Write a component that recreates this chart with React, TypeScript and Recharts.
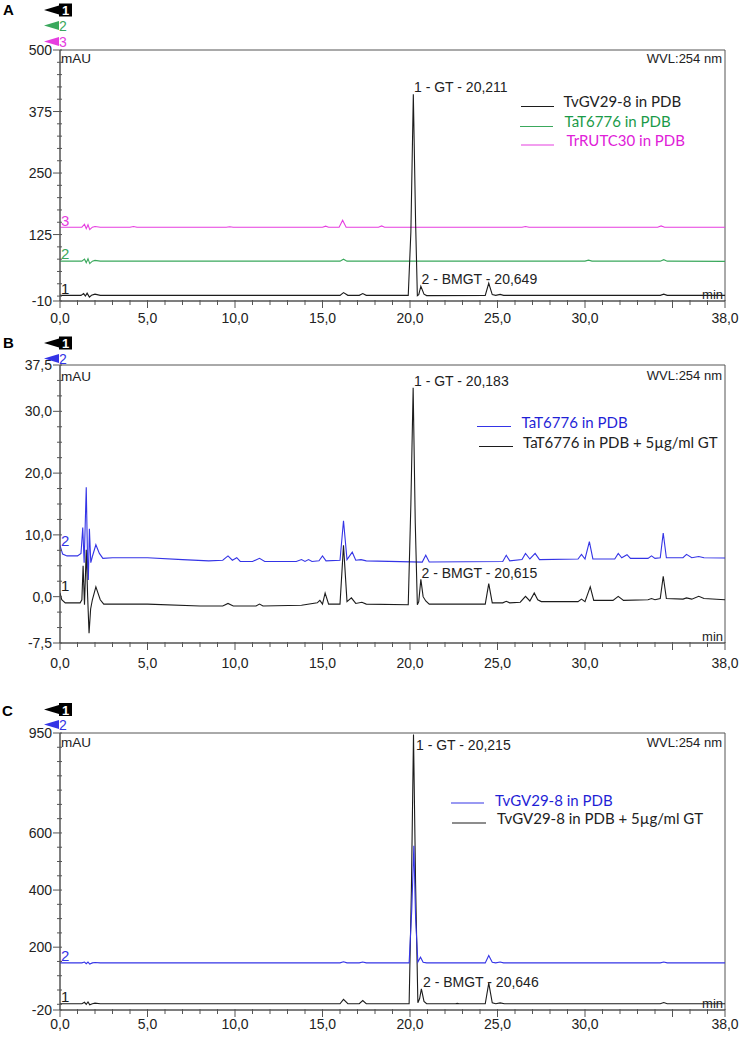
import React from 'react';
import { LineChart, Line, XAxis, YAxis, ReferenceArea } from 'recharts';

type Pt = [number, number];

// ---------- tick definitions ----------
const xTicks = [0,1,2,3,4,5,6,7,8,9,10,11,12,13,14,15,16,17,18,19,20,21,22,23,24,25,26,27,28,29,30,31,32,33,34,35,36,37,38];
const xMajor = [0,5,10,15,20,25,30,35,38];
const xLabeled = [0,5,10,15,20,25,30,38];

const aYTicks = [-10,0,25,50,75,100,125,150,175,200,225,250,275,300,325,350,375,400,425,450,475,500];
const aYMajor = [-10,125,250,375,500];
const bYTicks = [-7.5,-5,-2.5,0,2.5,5,7.5,10,12.5,15,17.5,20,22.5,25,27.5,30,32.5,35,37.5];
const bYMajor = [-7.5,0,10,20,30,37.5];
const cYTicks = [-20,0,50,100,150,200,250,300,350,400,450,500,550,600,650,700,750,800,850,900,950];
const cYMajor = [-20,200,400,600,950];

// ---------- panel A traces (time min, mAU) ----------
const aTrace1: Pt[] = [[0,1.5],[1.2,1.5],[1.35,5],[1.45,0],[1.55,6],[1.68,-2],[1.8,1.5],[2.0,4],[2.3,1.5],[16.0,1.5],[16.2,7],[16.45,1.5],[17.1,1.5],[17.3,5],[17.5,1.5],[19.9,1.5],[20.05,130],[20.19,410],[20.32,150],[20.42,1],[20.5,3],[20.62,20],[20.8,4],[20.95,1],[24.3,1.5],[24.5,26],[24.7,3],[24.9,1.5],[25.15,3.5],[25.35,1.5],[34.3,1.5],[34.5,4],[34.7,1.5],[38,1.5]];
const aTrace2: Pt[] = [[0,71],[1.25,71],[1.4,75],[1.5,68],[1.6,76],[1.7,66],[1.85,71],[2.0,72.5],[2.3,71],[16.0,71],[16.2,75],[16.4,71],[30.0,71],[30.2,73],[30.4,71],[34.3,71],[34.5,74],[34.7,71],[38,70.5]];
const aTrace3: Pt[] = [[0,140],[1.25,140],[1.4,146],[1.5,137],[1.6,145],[1.7,135],[1.85,140],[2.0,141.5],[2.3,140],[4.0,140],[4.2,141.5],[4.4,140],[9.5,140],[9.7,141],[9.9,140],[15.0,140],[15.18,142],[15.35,140],[15.95,140],[16.15,154],[16.35,140],[18.2,140],[18.38,142.5],[18.55,140],[26.4,140],[26.6,141.5],[26.8,140],[34.15,140],[34.35,142.5],[34.55,140],[38,140]];

// ---------- panel B traces ----------
const bTrace1: Pt[] = [[0,0.6],[0.1,-0.5],[0.3,-1.0],[1.15,-1.0],[1.25,-0.5],[1.32,5.0],[1.4,-1.3],[1.5,7.6],[1.58,0],[1.66,-5.9],[1.75,-2],[1.85,-0.5],[2.05,1.6],[2.3,-0.5],[2.5,-1.2],[5,-1.2],[8,-1.5],[9.3,-1.5],[9.6,-1.1],[9.9,-1.5],[11.2,-1.5],[11.4,-1.2],[11.6,-1.5],[13.8,-1.4],[14.7,-1.0],[14.85,-0.6],[15.0,-1.2],[15.15,0.6],[15.35,-1.2],[16.0,-1.2],[16.2,8.3],[16.4,-0.8],[16.65,-0.2],[16.9,-1.1],[17.25,-0.9],[17.5,-1.2],[19.9,-1.3],[20.05,15],[20.18,33.8],[20.3,12],[20.42,-1.3],[20.5,-0.8],[20.62,2.8],[20.75,0],[20.9,-0.7],[21.1,-1.2],[24.3,-1.2],[24.5,2.1],[24.7,-1.0],[25.3,-1.0],[25.5,-0.75],[25.7,-1.0],[26.3,-0.9],[26.6,0.05],[26.85,-0.7],[27.1,0.6],[27.3,-0.5],[27.5,-0.8],[29.6,-0.8],[29.8,-0.4],[30.0,-0.8],[30.3,1.6],[30.5,-0.6],[31.6,-0.6],[31.9,0.05],[32.2,-0.6],[33.6,-0.5],[33.8,-0.3],[34.0,-0.5],[34.3,-0.3],[34.47,3.3],[34.65,-0.3],[35.6,-0.4],[35.8,-0.2],[36.1,-0.4],[36.5,0.05],[36.8,-0.3],[38,-0.5]];
const bTrace2: Pt[] = [[0,8.3],[0.15,6.9],[0.4,6.6],[1.0,6.6],[1.2,7],[1.3,11.2],[1.38,5.5],[1.5,17.7],[1.58,5],[1.62,2.7],[1.68,11.0],[1.76,5.5],[1.85,6.5],[2.05,8.4],[2.25,7],[2.45,6.2],[3,6.3],[5,6.3],[7,6.0],[8.5,5.8],[9.3,5.9],[9.6,6.6],[9.85,5.9],[10.1,6.3],[10.3,5.7],[11.0,5.7],[11.4,6.2],[11.7,5.7],[13.5,5.7],[13.8,6.0],[14.0,5.7],[14.2,6.0],[14.4,5.7],[14.8,5.8],[15.0,6.6],[15.2,5.8],[16.0,5.9],[16.2,12.3],[16.4,6.0],[16.7,7.2],[16.9,5.9],[17.2,6.0],[17.5,5.8],[20.7,5.6],[20.9,6.7],[21.1,5.6],[25.3,5.7],[25.5,6.7],[25.7,5.8],[26.4,6.0],[26.6,7.0],[26.85,6.1],[27.15,7.0],[27.4,6.0],[29.6,6.1],[29.8,6.85],[30.0,6.1],[30.25,8.9],[30.45,6.1],[31.7,6.1],[31.9,7.0],[32.1,6.3],[32.4,6.8],[32.6,6.2],[33.6,6.2],[33.8,6.6],[34.0,6.2],[34.3,6.3],[34.47,10.3],[34.65,6.3],[35.6,6.3],[35.8,6.85],[36.1,6.3],[36.5,6.5],[36.8,6.3],[38,6.25]];

// ---------- panel C traces ----------
const cTrace1: Pt[] = [[0,1.8],[1.25,1.8],[1.4,7],[1.5,0],[1.6,8],[1.7,-2],[1.85,1.8],[2.0,4],[2.3,1.8],[16.0,1.8],[16.2,17],[16.45,2],[17.1,1.8],[17.3,13],[17.5,1.8],[19.95,1.8],[20.08,400],[20.2,945],[20.32,420],[20.45,5],[20.55,20],[20.65,54],[20.8,10],[20.95,2],[22.6,1.8],[22.7,3],[22.8,1.8],[24.3,1.8],[24.5,74],[24.7,5],[24.9,1.8],[25.15,5],[25.4,1.8],[34.3,1.8],[34.5,6],[34.7,1.8],[38,1.8]];
const cTrace2: Pt[] = [[0,145],[1.25,145],[1.4,148],[1.5,142],[1.6,148],[1.7,141],[1.85,145],[2.0,146.5],[2.3,145],[16.0,145],[16.2,149],[16.4,145],[17.1,145],[17.3,148],[17.5,145],[19.95,145],[20.1,330],[20.22,555],[20.32,300],[20.45,148],[20.6,165],[20.75,147],[20.95,145],[24.3,145],[24.5,171],[24.7,147],[24.9,145],[25.15,148],[25.35,145],[34.3,145],[34.5,148],[34.7,145],[38,145]];

const BLACK = '#1c1c1c';
const GREEN = '#3aa85c';
const MAGENTA = '#e63ee0';
const BLUE = '#3434e6';
const AXIS = '#555';
const TXT = '#222';
const SANS = '"Liberation Sans", Arial, sans-serif';
const LEG = 'Lato, "Open Sans", sans-serif';

const toData = (pts: Pt[]) => pts.map(([t, v]) => ({ t, v }));
const fmtComma = (v: number) => v.toFixed(1).replace('.', ',');
const fmtInt = (v: number) => String(v);

function XTick(props: any) {
  const { x, y, payload, lblOff } = props;
  const v = payload.value;
  const major = xMajor.includes(v);
  const lab = xLabeled.includes(v);
  return (
    <g>
      <line x1={x} x2={x} y1={y - 1} y2={y + (major ? 7 : 4)} stroke={AXIS} strokeWidth={1} />
      {lab && (
        <text x={x} y={y + lblOff} textAnchor="middle" dominantBaseline="central" fontFamily={SANS} fontSize={14} fill={TXT}>
          {fmtComma(v)}
        </text>
      )}
    </g>
  );
}

function YTick(props: any) {
  const { x, y, payload, majors, comma } = props;
  const v = payload.value;
  const major = majors.includes(v);
  return (
    <g>
      <line x1={x - (major ? 7 : 3)} x2={x + 2} y1={y} y2={y} stroke={AXIS} strokeWidth={1} />
      {major && (
        <text x={x - 8} y={y} textAnchor="end" dominantBaseline="central" fontFamily={SANS} fontSize={14} fill={TXT}>
          {comma ? fmtComma(v) : fmtInt(v)}
        </text>
      )}
    </g>
  );
}

type Series = { data: Pt[]; color: string; name: string };

function Panel(p: {
  top: number; height: number; marginTop: number; xAxisHeight: number;
  domain: [number, number]; yTicks: number[]; yMajor: number[]; comma: boolean;
  lblOff: number; series: Series[];
}) {
  return (
    <div style={{ position: 'absolute', left: 0, top: p.top, width: 746, height: p.height }}>
      <LineChart width={746} height={p.height} margin={{ top: p.marginTop, right: 21, bottom: 0, left: 0 }}>
        <XAxis type="number" dataKey="t" domain={[0, 38]} ticks={xTicks} interval={0} tickSize={0} tickMargin={0}
          height={p.xAxisHeight} stroke={AXIS} allowDataOverflow tick={<XTick lblOff={p.lblOff} />} />
        <YAxis type="number" dataKey="v" domain={p.domain} ticks={p.yTicks} interval={0} tickSize={0} tickMargin={0}
          width={60} stroke={AXIS} allowDataOverflow tick={<YTick majors={p.yMajor} comma={p.comma} />} />
        <ReferenceArea x1={0} x2={38} y1={p.domain[0]} y2={p.domain[1]} fill="none" stroke={AXIS} strokeWidth={1} ifOverflow="visible" />
        {p.series.map((s) => (
          <Line key={s.name} name={s.name} data={toData(s.data)} dataKey="v" type="linear" stroke={s.color}
            strokeWidth={1.1} dot={false} activeDot={false} isAnimationActive={false} />
        ))}
      </LineChart>
    </div>
  );
}

function BlackMarker({ y }: { y: number }) {
  return (
    <g>
      <polygon points={`44,${y} 59,${y - 4.5} 59,${y + 4.5}`} fill="#000" />
      <rect x={59} y={y - 6.5} width={13} height={13} fill="#000" />
      <text x={65.5} y={y + 0.5} textAnchor="middle" dominantBaseline="central" fontFamily={SANS} fontWeight="bold" fontSize={13} fill="#fff">1</text>
    </g>
  );
}
function ColorMarker({ y, color, n }: { y: number; color: string; n: string }) {
  return (
    <g>
      <polygon points={`44,${y} 59,${y - 4.5} 59,${y + 4.5}`} fill={color} />
      <text x={59} y={y} dominantBaseline="central" fontFamily={SANS} fontSize={14} fill={color}>{n}</text>
    </g>
  );
}

function T({ x, y, children, anchor = 'start', size = 14, color = TXT, font = SANS, weight }: any) {
  return (
    <text x={x} y={y} textAnchor={anchor} dominantBaseline="central" fontFamily={font} fontSize={size} fill={color} fontWeight={weight}>
      {children}
    </text>
  );
}

function LegendRow({ x1, x2, ly, tx, ty, color, textColor, label }: any) {
  return (
    <g>
      <line x1={x1} x2={x2} y1={ly} y2={ly} stroke={color} strokeWidth={1.2} />
      <T x={tx} y={ty} font={LEG} size={15} color={textColor}>{label}</T>
    </g>
  );
}

export default function App() {
  return (
    <div style={{ position: 'absolute', left: 0, top: 0, width: 746, height: 1037, background: '#fff', overflow: 'hidden' }}>
      <Panel top={0} height={330} marginTop={50} xAxisHeight={29} domain={[-10, 500]} yTicks={aYTicks} yMajor={aYMajor}
        comma={false} lblOff={17}
        series={[
          { data: aTrace3, color: MAGENTA, name: 'TrRUTC30 in PDB' },
          { data: aTrace2, color: GREEN, name: 'TaT6776 in PDB' },
          { data: aTrace1, color: BLACK, name: 'TvGV29-8 in PDB' },
        ]} />
      <Panel top={330} height={340} marginTop={35} xAxisHeight={27} domain={[-7.5, 37.5]} yTicks={bYTicks} yMajor={bYMajor}
        comma={true} lblOff={20}
        series={[
          { data: bTrace2, color: BLUE, name: 'TaT6776 in PDB' },
          { data: bTrace1, color: BLACK, name: 'TaT6776 in PDB + 5µg/ml GT' },
        ]} />
      <Panel top={690} height={347} marginTop={43} xAxisHeight={27} domain={[-20, 950]} yTicks={cYTicks} yMajor={cYMajor}
        comma={false} lblOff={14}
        series={[
          { data: cTrace1, color: BLACK, name: 'TvGV29-8 in PDB + 5µg/ml GT' },
          { data: cTrace2, color: BLUE, name: 'TvGV29-8 in PDB' },
        ]} />

      <svg width={746} height={1037} style={{ position: 'absolute', left: 0, top: 0, pointerEvents: 'none' }}>
        {/* Panel A */}
        <T x={3} y={9.5} size={15} weight="bold" color="#000">A</T>
        <BlackMarker y={10} />
        <ColorMarker y={25.5} color={GREEN} n="2" />
        <ColorMarker y={41.5} color={MAGENTA} n="3" />
        <T x={61} y={58.5} size={13.5}>mAU</T>
        <T x={722} y={58} anchor="end" size={13}>WVL:254 nm</T>
        <T x={723} y={294} anchor="end" size={13}>min</T>
        <T x={414} y={87} size={14}>1 - GT - 20,211</T>
        <T x={421.5} y={279} size={14}>2 - BMGT - 20,649</T>
        <T x={61} y={220} size={15} color={MAGENTA}>3</T>
        <T x={61} y={253} size={15} color={GREEN}>2</T>
        <T x={61} y={288} size={15} color={BLACK}>1</T>
        <LegendRow x1={521} x2={554} ly={106.5} tx={563.5} ty={101} color={BLACK} textColor={TXT} label="TvGV29-8 in PDB" />
        <LegendRow x1={520} x2={553} ly={126.5} tx={564.5} ty={121} color={GREEN} textColor="#1a9a48" label="TaT6776 in PDB" />
        <LegendRow x1={521} x2={554} ly={145} tx={566.5} ty={139.5} color={MAGENTA} textColor="#e020d8" label="TrRUTC30 in PDB" />

        {/* Panel B */}
        <T x={3} y={342} size={15} weight="bold" color="#000">B</T>
        <BlackMarker y={343} />
        <ColorMarker y={358.5} color={BLUE} n="2" />
        <T x={61} y={376} size={13.5}>mAU</T>
        <T x={722} y={375} anchor="end" size={13}>WVL:254 nm</T>
        <T x={723} y={636.5} anchor="end" size={13}>min</T>
        <T x={414} y={381} size={14}>1 - GT - 20,183</T>
        <T x={421.5} y={572.5} size={14}>2 - BMGT - 20,615</T>
        <T x={61} y={540} size={15} color={BLUE}>2</T>
        <T x={61} y={585.5} size={15} color={BLACK}>1</T>
        <LegendRow x1={477} x2={511} ly={426.5} tx={521.5} ty={421.5} color={BLUE} textColor="#1f1fd6" label="TaT6776 in PDB" />
        <LegendRow x1={479} x2={513} ly={446.5} tx={523} ty={441.5} color={BLACK} textColor={TXT} label="TaT6776 in PDB + 5µg/ml GT" />

        {/* Panel C */}
        <T x={2} y={710} size={15} weight="bold" color="#000">C</T>
        <BlackMarker y={709.5} />
        <ColorMarker y={724.5} color={BLUE} n="2" />
        <T x={61} y={742} size={13.5}>mAU</T>
        <T x={722} y={742} anchor="end" size={13}>WVL:254 nm</T>
        <T x={723} y={1003} anchor="end" size={13}>min</T>
        <T x={416} y={745} size={14}>1 - GT - 20,215</T>
        <T x={423} y={981.5} size={14}>2 - BMGT - 20,646</T>
        <T x={61} y={955} size={15} color={BLUE}>2</T>
        <T x={61} y={996} size={15} color={BLACK}>1</T>
        <LegendRow x1={451} x2={484} ly={803} tx={495} ty={800} color={BLUE} textColor="#1f1fd6" label="TvGV29-8 in PDB" />
        <LegendRow x1={452} x2={486} ly={823} tx={497} ty={818} color={BLACK} textColor={TXT} label="TvGV29-8 in PDB + 5µg/ml GT" />
      </svg>
    </div>
  );
}
